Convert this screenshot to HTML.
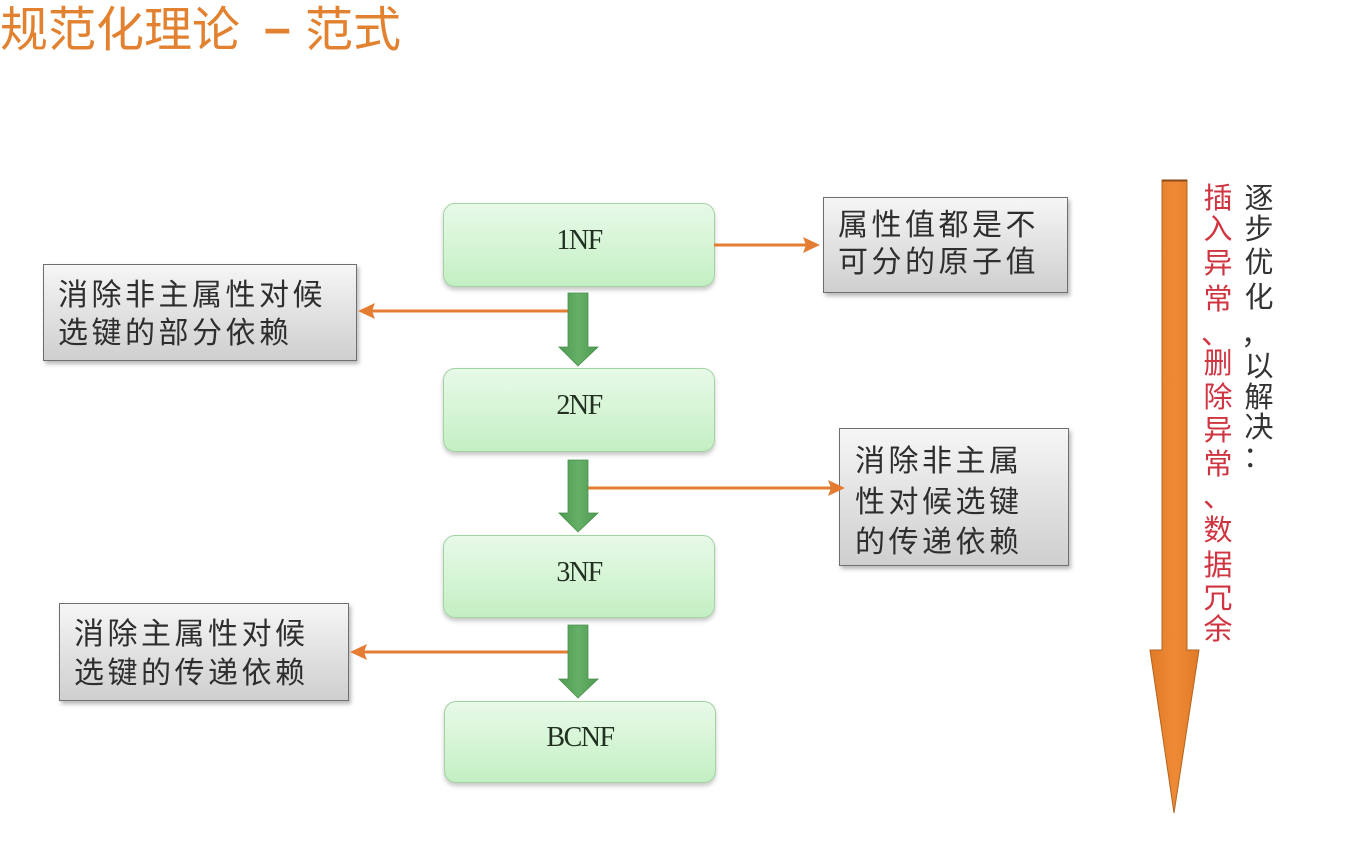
<!DOCTYPE html>
<html>
<head>
<meta charset="utf-8">
<style>
  html, body { margin:0; padding:0; }
  body { width:1358px; height:860px; background:#ffffff; position:relative; overflow:hidden;
         font-family:"Liberation Sans","Noto Sans CJK SC",sans-serif; }
  .abs { position:absolute; }
  .title { position:absolute; font-family:"Liberation Sans","Noto Sans CJK SC",sans-serif;
           font-size:48px; line-height:60px; height:60px; color:#E2812F; white-space:nowrap; }
  .gbox { position:absolute; box-sizing:border-box; border:1.5px solid #a3d2a3; border-radius:12px;
          background:linear-gradient(to bottom,#e8f9e8 0%,#d6f5d6 50%,#c3efc3 100%);
          box-shadow:0 3px 4px rgba(0,0,0,0.22);
          display:flex; align-items:center; justify-content:center; padding-bottom:8px;
          font-family:"Liberation Serif",serif; font-size:28px; letter-spacing:-1.5px; color:#223022; }
  .xbox { position:absolute; box-sizing:border-box; border:1.5px solid #6f6f6f;
          background:linear-gradient(to bottom,#f6f6f6 0%,#e4e4e4 45%,#cfcfcf 100%);
          box-shadow:2px 3px 4px rgba(0,0,0,0.28); }
  .ln { position:absolute; font-family:"Liberation Sans","Noto Sans CJK SC",sans-serif;
        font-size:30px; letter-spacing:3.5px; line-height:37px; height:37px; color:#2e2e2e; white-space:nowrap; }
  .vc { position:absolute; width:34px; height:34px; line-height:34px; text-align:center;
        font-family:"Liberation Sans","Noto Sans CJK SC",sans-serif; font-size:29px; }
  .dk { color:#333333; }
  .rd { color:#cf3440; }
  .pc { position:absolute; height:34px; line-height:34px;
        font-family:"Liberation Sans","Noto Sans CJK SC",sans-serif; font-size:29px; }
</style>
</head>
<body>

<!-- Title -->
<div class="title" style="left:0px; top:1px;">规范化理论</div>
<div class="title" style="left:264px; top:-1px; font-weight:bold;">–</div>
<div class="title" style="left:305px; top:1px;">范式</div>

<!-- Green NF boxes -->
<div class="gbox" style="left:443px; top:203px; width:272px; height:84px;">1NF</div>
<div class="gbox" style="left:443px; top:368px; width:272px; height:84px;">2NF</div>
<div class="gbox" style="left:443px; top:535px; width:272px; height:83px;">3NF</div>
<div class="gbox" style="left:444px; top:701px; width:272px; height:82px;">BCNF</div>

<!-- Gray boxes -->
<div class="xbox" style="left:823px; top:197px; width:245px; height:96px;"></div>
<div class="ln" style="left:838px; top:207px;">属性值都是不</div>
<div class="ln" style="left:838px; top:244px;">可分的原子值</div>

<div class="xbox" style="left:43px; top:264px; width:314px; height:97px;"></div>
<div class="ln" style="left:58px; top:277px;">消除非主属性对候</div>
<div class="ln" style="left:58px; top:315px;">选键的部分依赖</div>

<div class="xbox" style="left:839px; top:428px; width:230px; height:138px;"></div>
<div class="ln" style="left:855px; top:443px;">消除非主属</div>
<div class="ln" style="left:855px; top:484px;">性对候选键</div>
<div class="ln" style="left:855px; top:524px;">的传递依赖</div>

<div class="xbox" style="left:59px; top:603px; width:290px; height:98px;"></div>
<div class="ln" style="left:74px; top:616px;">消除主属性对候</div>
<div class="ln" style="left:74px; top:655px;">选键的传递依赖</div>

<!-- Connectors & arrows -->
<svg class="abs" style="left:0; top:0;" width="1358" height="860" viewBox="0 0 1358 860">
  <defs>
    <linearGradient id="gg" x1="0" y1="0" x2="1" y2="0">
      <stop offset="0" stop-color="#4c9a4f"/>
      <stop offset="0.5" stop-color="#66b068"/>
      <stop offset="1" stop-color="#4c9a4f"/>
    </linearGradient>
    <linearGradient id="og" x1="0" y1="0" x2="1" y2="0">
      <stop offset="0" stop-color="#e27a26"/>
      <stop offset="0.5" stop-color="#ee8a36"/>
      <stop offset="1" stop-color="#e27a26"/>
    </linearGradient>
  </defs>

  <!-- orange connectors -->
  <g stroke="#e47c33" stroke-width="3" fill="none">
    <line x1="714" y1="245" x2="806" y2="245"/>
    <line x1="569" y1="311" x2="372" y2="311"/>
    <line x1="588" y1="488" x2="831" y2="488"/>
    <line x1="573" y1="652" x2="364" y2="652"/>
  </g>
  <g fill="#e47c33">
    <polygon points="803,237 820,245 803,253 806,245"/>
    <polygon points="375,303 358,311 375,319 372,311"/>
    <polygon points="828,480 845,488 828,496 831,488"/>
    <polygon points="367,644 350,652 367,660 364,652"/>
  </g>

  <!-- green down arrows -->
  <g fill="url(#gg)" stroke="#4a8f4c" stroke-width="0.8">
    <polygon points="568,293 588,293 588,347 598,347 578,366 559,347 568,347"/>
    <polygon points="568,460 588,460 588,513 598,513 578,532 559,513 568,513"/>
    <polygon points="568,625 588,625 588,679 598,679 578,698 559,679 568,679"/>
  </g>

  <!-- big orange arrow -->
  <polygon points="1162,180 1187,180 1187,650 1199,650 1174,813 1150,650 1162,650"
           fill="url(#og)" stroke="#b2651f" stroke-width="1"/>
  <line x1="1162" y1="180.5" x2="1187" y2="180.5" stroke="#8a4a15" stroke-width="2"/>
</svg>

<!-- Vertical text: right (dark) column -->
<div class="vc dk" style="left:1242px; top:182px;">逐</div>
<div class="vc dk" style="left:1242px; top:213px;">步</div>
<div class="vc dk" style="left:1242px; top:246px;">优</div>
<div class="vc dk" style="left:1242px; top:281px;">化</div>
<div class="pc dk" style="left:1241px; top:318px;">，</div>
<div class="vc dk" style="left:1242px; top:350px;">以</div>
<div class="vc dk" style="left:1242px; top:381px;">解</div>
<div class="vc dk" style="left:1242px; top:411px;">决</div>
<div class="pc dk" style="left:1243px; top:441px;">：</div>

<!-- Vertical text: left (red) column -->
<div class="vc rd" style="left:1201px; top:182px;">插</div>
<div class="vc rd" style="left:1201px; top:213px;">入</div>
<div class="vc rd" style="left:1201px; top:247px;">异</div>
<div class="vc rd" style="left:1201px; top:283px;">常</div>
<div class="pc rd" style="left:1201px; top:318px;">、</div>
<div class="vc rd" style="left:1201px; top:347px;">删</div>
<div class="vc rd" style="left:1201px; top:381px;">除</div>
<div class="vc rd" style="left:1201px; top:414px;">异</div>
<div class="vc rd" style="left:1201px; top:448px;">常</div>
<div class="pc rd" style="left:1203px; top:481px;">、</div>
<div class="vc rd" style="left:1201px; top:514px;">数</div>
<div class="vc rd" style="left:1201px; top:549px;">据</div>
<div class="vc rd" style="left:1201px; top:582px;">冗</div>
<div class="vc rd" style="left:1201px; top:613px;">余</div>

</body>
</html>
